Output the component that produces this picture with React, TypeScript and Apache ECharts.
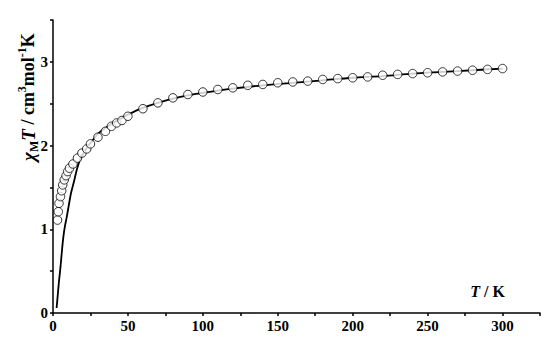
import React, { useEffect, useRef } from "react";
import * as echarts from "echarts";

const expT = [3, 3.5, 4, 5, 5.8, 6.5, 7.5, 8.7, 9.8, 11, 13.3, 16.3, 19.3, 22.5, 25, 30, 35, 39, 42.5, 46, 50, 60, 70, 80, 90, 100, 110, 120, 130, 140, 150, 160, 170, 180, 190, 200, 210, 220, 230, 240, 250, 260, 270, 280, 290, 300];
const expChiT = [1.11, 1.21, 1.31, 1.39, 1.46, 1.53, 1.59, 1.64, 1.69, 1.73, 1.78, 1.85, 1.91, 1.96, 2.02, 2.1, 2.17, 2.23, 2.27, 2.3, 2.35, 2.44, 2.51, 2.57, 2.61, 2.64, 2.67, 2.69, 2.72, 2.73, 2.75, 2.76, 2.77, 2.79, 2.8, 2.81, 2.82, 2.84, 2.85, 2.86, 2.87, 2.88, 2.89, 2.9, 2.91, 2.92];

const fitT = [2.4, 3, 4, 5, 6, 7, 8, 9, 10, 12, 14, 16, 18, 20, 22.5, 25, 30, 35, 40, 45, 50, 60, 70, 80, 90, 100, 120, 140, 160, 180, 200, 220, 240, 260, 280, 300];
const fitChiT = [0.06, 0.18, 0.38, 0.55, 0.75, 0.92, 1.04, 1.13, 1.23, 1.43, 1.57, 1.72, 1.83, 1.9, 1.97, 2.03, 2.14, 2.21, 2.27, 2.32, 2.37, 2.45, 2.51, 2.56, 2.6, 2.63, 2.68, 2.72, 2.75, 2.78, 2.81, 2.83, 2.86, 2.88, 2.9, 2.92];

const FONT = "'Liberation Serif', 'Times New Roman', serif";

export default function App() {
  const ref = useRef<HTMLDivElement>(null);
  useEffect(() => {
    if (!ref.current) return;
    const chart = echarts.init(ref.current, null, { renderer: "svg" });
    const axisLabel = { color: "#000", fontFamily: FONT, fontWeight: "bold", fontSize: 15 };
    chart.setOption({
      animation: false,
      backgroundColor: "#fff",
      grid: { left: 53, right: 10, top: 20, bottom: 32 },
      xAxis: {
        type: "value",
        min: 0,
        max: 325,
        interval: 25,
        axisLine: { show: true, lineStyle: { color: "#000", width: 1.5 } },
        axisTick: { show: true, length: 3, lineStyle: { color: "#000", width: 1.5 } },
        splitLine: { show: false },
        axisLabel: {
          ...axisLabel,
          margin: 5,
          formatter: (v: number) => (v % 50 === 0 && v <= 300 ? String(v) : ""),
        },
      },
      yAxis: {
        type: "value",
        min: 0,
        max: 3.5,
        interval: 0.5,
        axisLine: { show: true, lineStyle: { color: "#000", width: 1.5 } },
        axisTick: { show: true, length: 3, lineStyle: { color: "#000", width: 1.5 } },
        splitLine: { show: false },
        axisLabel: {
          ...axisLabel,
          margin: 5,
          formatter: (v: number) => (Number.isInteger(v) && v <= 3 ? String(v) : ""),
        },
      },
      graphic: [
        {
          type: "text",
          x: 505,
          y: 291,
          style: {
            text: "{i|T}{n| / K}",
            align: "right",
            verticalAlign: "middle",
            rich: {
              i: { fontFamily: FONT, fontWeight: "bold", fontStyle: "italic", fontSize: 16, fill: "#000" },
              n: { fontFamily: FONT, fontWeight: "bold", fontSize: 16, fill: "#000" },
            },
          },
        },
        {
          type: "text",
          x: 28,
          y: 97,
          rotation: Math.PI / 2,
          style: {
            text: "{i|χ}{sub|M}{i|T}{n| / cm}{sup|3}{n|mol}{sup|-1}{n|K}",
            align: "center",
            verticalAlign: "middle",
            rich: {
              i: { fontFamily: FONT, fontWeight: "bold", fontStyle: "italic", fontSize: 19, fill: "#000", lineHeight: 24, verticalAlign: "middle" },
              n: { fontFamily: FONT, fontWeight: "bold", fontSize: 18, fill: "#000", lineHeight: 24, verticalAlign: "middle" },
              sub: { fontFamily: FONT, fontWeight: "bold", fontSize: 12, fill: "#000", lineHeight: 24, verticalAlign: "bottom", padding: [9, 0, 0, 0] },
              sup: { fontFamily: FONT, fontWeight: "bold", fontSize: 12, fill: "#000", lineHeight: 24, verticalAlign: "top", padding: [0, 0, 9, 0] },
            },
          },
        },
      ],
      series: [
        {
          type: "line",
          data: fitT.map((t, i) => [t, fitChiT[i]]),
          showSymbol: false,
          smooth: 0.3,
          lineStyle: { color: "#000", width: 1.8 },
          z: 2,
        },
        {
          type: "scatter",
          data: expT.map((t, i) => [t, expChiT[i]]),
          symbol: "circle",
          symbolSize: 8.5,
          itemStyle: { color: "#fff", borderColor: "#000", borderWidth: 1 },
          z: 3,
        },
      ],
    });
    return () => chart.dispose();
  }, []);
  return <div ref={ref} style={{ width: 550, height: 345, position: "absolute", left: 0, top: 0 }} />;
}
